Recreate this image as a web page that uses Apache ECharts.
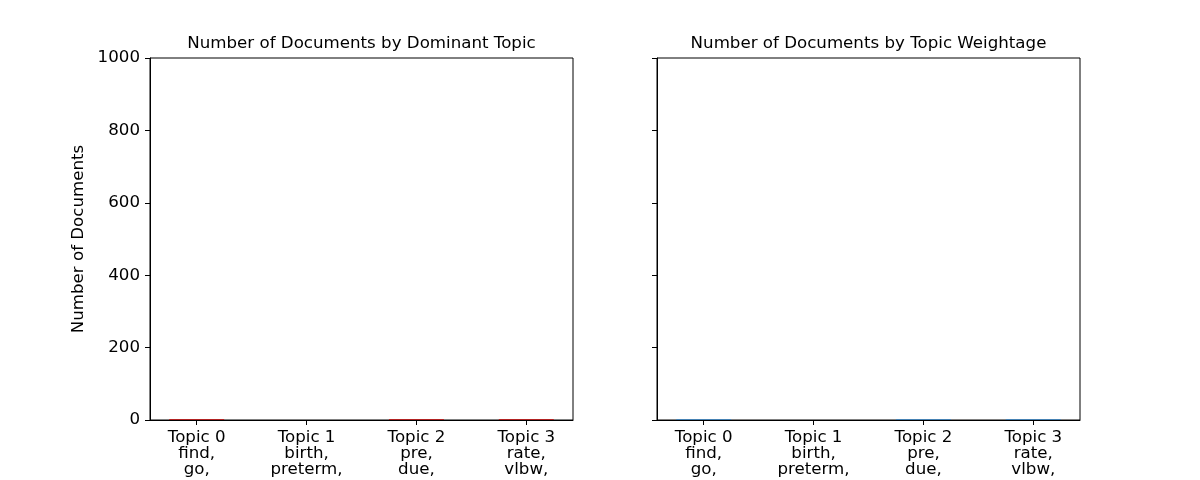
<!DOCTYPE html>
<html><head><meta charset="utf-8">
<script src="https://cdn.jsdelivr.net/npm/echarts@6/dist/echarts.min.js"></script>
<style>html,body{margin:0;padding:0;background:#fff}#c{width:1200px;height:480px}</style>
</head><body><div id="c"></div>
<script>
const topicLabels = ["Topic 0\nfind,\ngo,", "Topic 1\nbirth,\npreterm,", "Topic 2\npre,\ndue,", "Topic 3\nrate,\nvlbw,"];
const topicPositions = [0, 1, 2, 3];
const dominantCounts = [3, 0, 3, 3];
const weightageCounts = [3, 0, 3, 3];

const FONT = 'DejaVu Sans';
const FS = 16.67;
const chart = echarts.init(document.getElementById('c'), null, {renderer: 'canvas'});

function xAxis(gi) {
  return {
    type: 'value', gridIndex: gi, min: -0.425, max: 3.425,
    axisLine: {show: true, onZero: false, lineStyle: {color: '#000', width: 1}},
    axisTick: {show: true, length: 5, lineStyle: {color: '#000'}, customValues: topicPositions},
    axisLabel: {show: true, customValues: topicPositions, color: '#000', fontFamily: FONT, fontSize: FS,
      lineHeight: 16, margin: 10, align: 'center', verticalAlign: 'top',
      formatter: v => topicLabels[Math.round(v)]},
    splitLine: {show: false}
  };
}
function yAxis(gi, showLabels) {
  return {
    type: 'value', gridIndex: gi, min: 0, max: 1000, interval: 200,
    axisLine: {show: true, onZero: false, lineStyle: {color: '#000', width: 1}},
    axisTick: {show: true, length: 5, lineStyle: {color: '#000'}},
    axisLabel: {show: showLabels, color: '#000', fontFamily: FONT, fontSize: FS, margin: 10,
      formatter: v => String(v)},
    splitLine: {show: false},
    name: showLabels ? 'Number of Documents' : '',
    nameLocation: 'middle', nameRotate: 90, nameGap: 63,
    nameTextStyle: {color: '#000', fontFamily: FONT, fontSize: FS}
  };
}

chart.setOption({
  animation: false,
  title: [
    {text: 'Number of Documents by Dominant Topic', left: 361.5, top: 35, textAlign: 'center', padding: 0,
     textStyle: {color: '#000', fontFamily: FONT, fontSize: FS, fontWeight: 'normal'}},
    {text: 'Number of Documents by Topic Weightage', left: 868.5, top: 35, textAlign: 'center', padding: 0,
     textStyle: {color: '#000', fontFamily: FONT, fontSize: FS, fontWeight: 'normal'}}
  ],
  grid: [
    {left: 150, top: 58, width: 423, height: 362, show: true, borderColor: '#000', borderWidth: 1, containLabel: false},
    {left: 657, top: 58, width: 423, height: 362, show: true, borderColor: '#000', borderWidth: 1, containLabel: false}
  ],
  xAxis: [xAxis(0), xAxis(1)],
  yAxis: [yAxis(0, true), yAxis(1, false)],
  series: [
    {type: 'bar', xAxisIndex: 0, yAxisIndex: 0, barWidth: 55,
     itemStyle: {color: '#b22222'},
     data: topicPositions.map((x, i) => [x, dominantCounts[i]])},
    {type: 'bar', xAxisIndex: 1, yAxisIndex: 1, barWidth: 55,
     itemStyle: {color: '#4682b4'},
     data: topicPositions.map((x, i) => [x, weightageCounts[i]])}
  ]
});
</script></body></html>
